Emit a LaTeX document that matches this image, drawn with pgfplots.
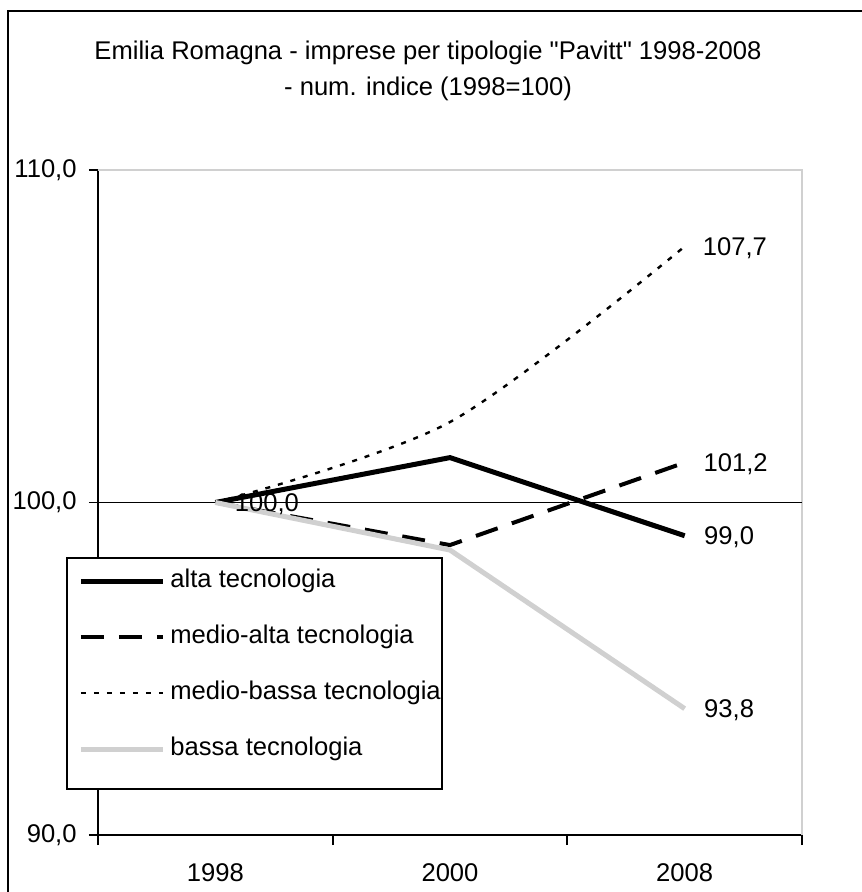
\documentclass[border=0pt]{standalone}
\usepackage{fontspec}
\setmainfont{Liberation Sans}
\newfontfamily\qfont{Liberation Sans}
\usepackage{pgfplots}
\pgfplotsset{compat=1.18}
\definecolor{lgray}{RGB}{208,208,208}
\begin{document}
\begin{tikzpicture}[font=\fontsize{12.8}{15}\selectfont]
\begin{axis}[
  at={(0pt,0pt)}, anchor=south west,
  scale only axis, width=352pt, height=332.5pt,
  xmin=-0.5, xmax=2.5, ymin=90, ymax=110,
  axis line style={draw=none},
  tick align=outside,
  xtick pos=left, ytick pos=left,
  xtick={0,1,2}, xticklabels={1998,2000,2008},
  minor xtick={-0.5,0.5,1.5,2.5},
  tick style={black, line width=0.9pt},
  major x tick style={draw=none},
  minor x tick style={draw=black, line width=0.9pt},
  minor tick length=5pt,
  major tick length=4.5pt,
  ytick={90,100,110}, yticklabels={{90,0},{100,0},{110,0}},
  xticklabel style={anchor=north, inner sep=0pt, yshift=-9.5pt},
  yticklabel style={anchor=east, inner sep=0pt, xshift=-6pt},
  ticklabel style={font=\fontsize{12.8}{15}\selectfont},
  clip=false,
  point meta=explicit symbolic,
  every node near coord/.append style={anchor=base west, inner sep=0pt, xshift=8.5pt, yshift=-4.6pt, text=black, font=\fontsize{12.8}{15}\selectfont},
  legend style={at={(-0.04403,0.41654)}, anchor=north west, draw=none, fill=none,
    inner xsep=2pt, inner ysep=5.3pt, row sep=16pt, column sep=2.5pt,
    font=\fontsize{12.8}{15}\selectfont,
    nodes={inner sep=0pt, text height=9.3pt, text depth=2.7pt}},
  legend cell align=left,
  legend image code/.code={\path (0pt,0pt); \draw[#1] (3.5pt,0pt) -- (44.5pt,0pt);},
]
\draw[black, line width=0.9pt] (rel axis cs:0,0) -- (rel axis cs:0,1);
\draw[black, line width=0.9pt] (rel axis cs:0,0) -- (rel axis cs:1,0);
\draw[lgray, line width=0.8pt] (rel axis cs:0,1) -- (rel axis cs:1,1) -- (rel axis cs:1,0);
\draw[black, line width=0.7pt] (axis cs:-0.5,100) -- (axis cs:2.5,100);

\addplot[black, line width=2.5pt, line join=round, nodes near coords={\pgfplotspointmeta}]
  coordinates {(0,100) [100,0] (1,101.35) [] (2,99.0) [99,0]};
\addlegendentry{alta tecnologia}
\addplot[black, line width=2pt, dash pattern=on 11.5pt off 7.5pt, nodes near coords={\pgfplotspointmeta}]
  coordinates {(0,100) [] (1,98.72) [] (2,101.2) [101,2]};
\addlegendentry{medio-alta tecnologia}
\addplot[black, line width=1.2pt, dash pattern=on 2.5pt off 4pt, smooth, nodes near coords={\pgfplotspointmeta}]
  coordinates {(0,100) [] (1,102.42) [] (2,107.7) [107,7]};
\addlegendentry{medio-bassa tecnologia}
\addplot[lgray, line width=2.5pt, line join=round, nodes near coords={\pgfplotspointmeta}]
  coordinates {(0,100) [] (1,98.57) [] (2,93.8) [93,8]};
\addlegendentry{bassa tecnologia}
\draw[black, line width=0.9pt, fill=white] (axis description cs:-0.04403,0.06917) rectangle (axis description cs:0.48864,0.41654);
\end{axis}
\node[anchor=base] at (165pt,387.5pt) {Emilia Romagna - imprese per tipologie {\qfont"}Pavitt{\qfont"} 1998-2008};
\node[anchor=base] at (165pt,369.5pt) {- num. indice (1998=100)};
\draw[line width=1pt] (-45pt,-40pt) rectangle (395pt,412pt);
\pgfresetboundingbox
\useasboundingbox (-49pt,-28.5pt) rectangle (381.5pt,417.5pt);
\end{tikzpicture}
\end{document}
